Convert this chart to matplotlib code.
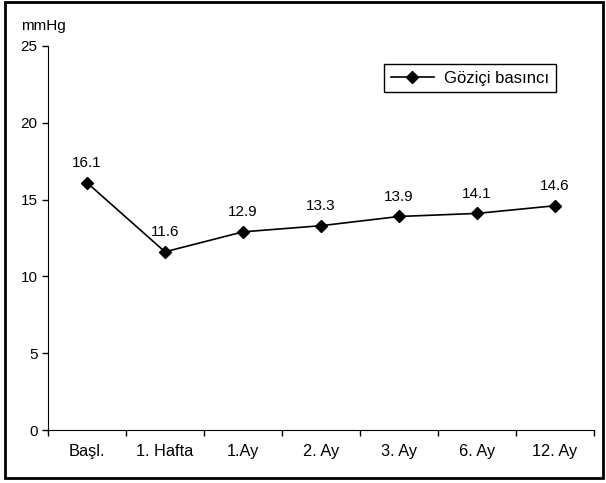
import matplotlib.pyplot as plt
from matplotlib.patches import Rectangle

plt.rcParams['font.family'] = ['Liberation Sans', 'DejaVu Sans']

categories = ["Başl.", "1. Hafta", "1.Ay", "2. Ay", "3. Ay", "6. Ay", "12. Ay"]
pressure = [16.1, 11.6, 12.9, 13.3, 13.9, 14.1, 14.6]
labels = ["16.1", "11.6", "12.9", "13.3", "13.9", "14.1", "14.6"]
yticks = [0, 5, 10, 15, 20, 25]

fig = plt.figure(figsize=(6.06, 4.83), dpi=100)
ax = fig.add_axes([0.0792, 0.1097, 0.9008, 0.7951])

x = list(range(len(categories)))
ax.plot(x, pressure, color='black', linewidth=1.2, marker='D', markersize=6.5,
        markerfacecolor='black', label='Göziçi basıncı')
for xi, yi, txt in zip(x, pressure, labels):
  ax.annotate(txt, (xi, yi), xytext=(0, 9), textcoords='offset points',
              ha='center', va='bottom', fontsize=11)

ax.set_xlim(-0.5, len(categories) - 0.5)
ax.set_ylim(0, 25)
ax.set_yticks(yticks)
ax.set_xticks([i + 0.5 for i in range(-1, len(categories))], minor=False)
ax.set_xticklabels([])
ax.set_xticks(x, minor=True)
ax.set_xticklabels(categories, minor=True, fontsize=11.8)
ax.tick_params(axis='x', which='minor', length=0, pad=10)
ax.tick_params(axis='x', which='major', length=4, width=1, direction='out')
ax.tick_params(axis='y', length=4, width=1, direction='out', labelsize=11)

ax.spines['top'].set_visible(False)
ax.spines['right'].set_visible(False)

ax.text(-0.009, 1.052, "mmHg", transform=ax.transAxes, ha='center', va='center', fontsize=11)

leg = ax.legend(loc='upper right', bbox_to_anchor=(0.930, 0.953), borderaxespad=0,
                fancybox=False, edgecolor='black', framealpha=1, fontsize=12,
                handlelength=2.6, handletextpad=0.6, borderpad=0.4)
leg.get_frame().set_linewidth(1)

fig.patches.append(Rectangle((0.008, 0.01), 0.987, 0.985, transform=fig.transFigure,
                             fill=False, edgecolor='black', linewidth=2))

fig.savefig("out.png", dpi=100)
